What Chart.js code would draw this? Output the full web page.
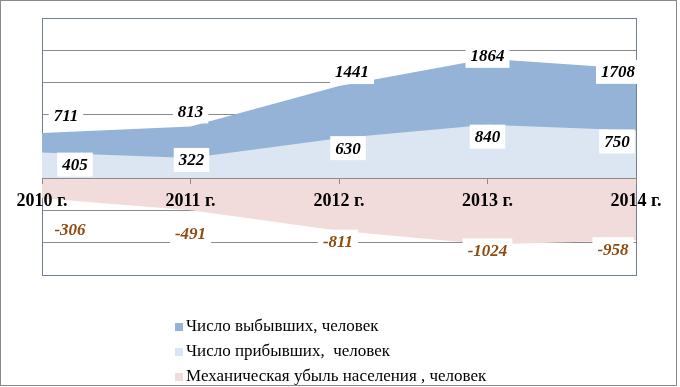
<!DOCTYPE html>
<html>
<head>
<meta charset="utf-8">
<script src="https://cdn.jsdelivr.net/npm/chart.js@4"></script>
<style>
  html, body { margin: 0; padding: 0; background: #fff; }
  #wrap { width: 680px; height: 387px; position: relative; }
</style>
</head>
<body>
<div id="wrap"><canvas id="migr"></canvas></div>
<script>
var years = ['2010 г.', '2011 г.', '2012 г.', '2013 г.', '2014 г.'];
var departed = [711, 813, 1441, 1864, 1708];
var arrived = [405, 322, 630, 840, 750];
var netLoss = [-306, -491, -811, -1024, -958];
var seriesNames = [
    'Число выбывших, человек',
    'Число прибывших,  человек',
    'Механическая убыль населения , человек'
];
var yMin = -1500, yMax = 2500, yStep = 500;

var colors = ['#95b3d7', '#dce6f2', '#f2dcdb'];
var labelColors = ['#000000', '#000000', '#8f4c12'];
// nudges for the value labels, [dx, dy] per point (Excel placed them by hand)
var nudges = [
    [[24, -17], [0, -15], [13, -14], [0, -3], [-18, 3]],
    [[33, 12], [1, 2], [9, 10], [0, 12], [-19, 11]],
    [[28, 31], [0, 23], [-1, 11], [0, 6], [-23, 9]]
];
var serif = "'Liberation Serif', 'Times New Roman', serif";

// frame around the plot, drawn under the areas like the gridlines
var framePlugin = {
    id: 'frame',
    beforeDatasetsDraw: function (chart) {
        var a = chart.chartArea, c = chart.ctx;
        c.save();
        c.strokeStyle = '#6f7f99';
        c.lineWidth = 1;
        c.strokeRect(Math.round(a.left) + 0.5, Math.round(a.top) + 0.5,
            Math.round(a.right - a.left), Math.round(a.bottom - a.top));
        c.restore();
    }
};

var labelPlugin = {
    id: 'valueLabels',
    afterDatasetsDraw: function (chart) {
        var c = chart.ctx;
        c.save();
        c.font = 'italic bold 17px ' + serif;
        c.textAlign = 'center';
        c.textBaseline = 'middle';
        chart.data.datasets.forEach(function (ds, di) {
            var meta = chart.getDatasetMeta(di);
            meta.data.forEach(function (pt, i) {
                var txt = String(ds.data[i]);
                var x = pt.x + nudges[di][i][0];
                var y = pt.y + nudges[di][i][1];
                var w = c.measureText(txt).width + 10;
                c.fillStyle = '#ffffff';
                c.fillRect(x - w / 2, y - 12, w, 24);
                c.fillStyle = labelColors[di];
                c.fillText(txt, x, y + 1);
            });
        });
        c.restore();
    }
};

var legendPlugin = {
    id: 'sideLegend',
    afterDraw: function (chart) {
        var c = chart.ctx;
        c.save();
        c.font = '17px ' + serif;
        c.textBaseline = 'middle';
        c.textAlign = 'left';
        seriesNames.forEach(function (name, i) {
            var y = 327 + i * 25;
            c.fillStyle = colors[i];
            c.fillRect(175, y - 4, 8, 8);
            c.fillStyle = '#000000';
            c.fillText(name, 186, y);
        });
        // outer border of the picture
        c.strokeStyle = '#8a8a8a';
        c.lineWidth = 1;
        c.strokeRect(0.5, 0.5, 676, 385);
        c.restore();
    }
};

var ctx = document.getElementById('migr').getContext('2d');

var chart = new Chart(ctx, {
    type: 'line',
    data: {
        labels: years,
        datasets: [{
            label: seriesNames[0],
            data: departed,
            backgroundColor: colors[0],
            borderWidth: 0,
            fill: 'origin',
            order: 2
        }, {
            label: seriesNames[1],
            data: arrived,
            backgroundColor: colors[1],
            borderWidth: 0,
            fill: 'origin',
            order: 1
        }, {
            label: seriesNames[2],
            data: netLoss,
            backgroundColor: colors[2],
            borderWidth: 0,
            fill: 'origin',
            order: 0
        }]
    },
    options: {
        responsive: true,
        maintainAspectRatio: false,
        animation: false,
        layout: {
            padding: { left: 42, right: 44, top: 18, bottom: 112 }
        },
        elements: {
            point: { radius: 0, hoverRadius: 0 },
            line: { tension: 0 }
        },
        plugins: {
            legend: { display: false },
            tooltip: { enabled: false }
        },
        scales: {
            x: {
                position: { y: 0 },
                offset: false,
                grid: {
                    drawOnChartArea: false,
                    drawTicks: true,
                    tickLength: 5,
                    color: '#8a8a8a',
                    z: 1
                },
                border: { display: true, color: '#8a8a8a', z: 1 },
                ticks: {
                    color: '#000000',
                    padding: 7,
                    maxRotation: 0,
                    z: 1,
                    font: { family: serif, size: 18, weight: 'bold' }
                }
            },
            y: {
                min: yMin,
                max: yMax,
                ticks: { display: false, stepSize: yStep },
                grid: { color: '#8a8a8a', drawTicks: false },
                border: { display: false }
            }
        }
    },
    plugins: [framePlugin, labelPlugin, legendPlugin]
});
</script>
</body>
</html>
